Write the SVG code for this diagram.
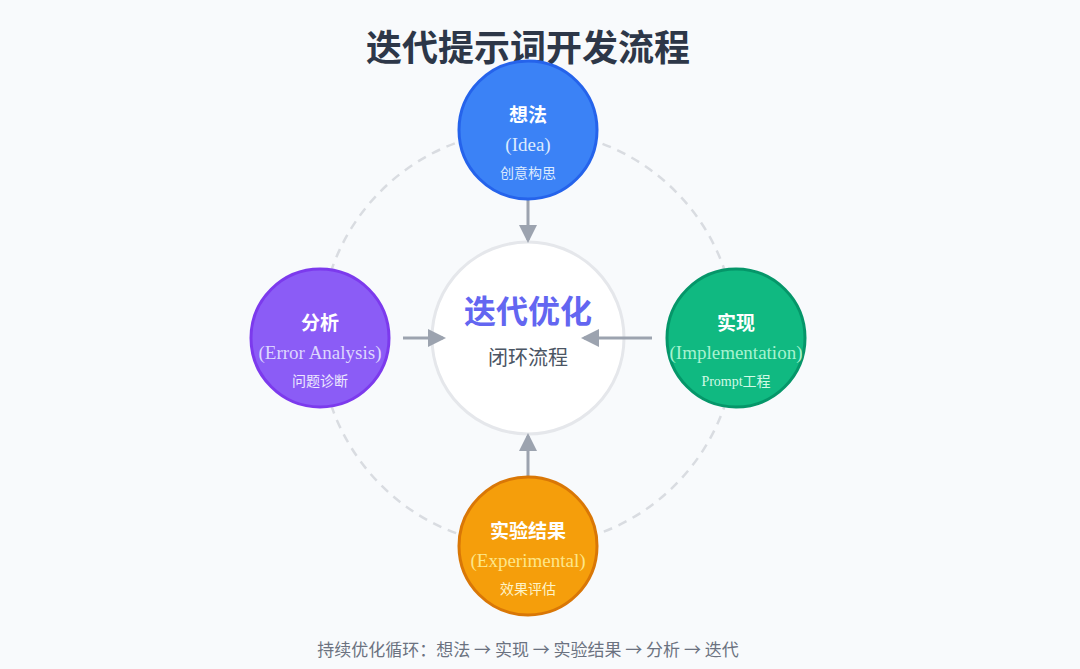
<svg xmlns="http://www.w3.org/2000/svg" width="1080" height="669" viewBox="0 0 1080 669">
<style>
.cjk{font-family:"Noto Sans CJK SC","Noto Sans",sans-serif}
.t{font-size:19px;font-weight:bold;fill:#fff;text-anchor:middle}
.en{font-family:"Liberation Serif",serif;font-size:19px;text-anchor:middle}
.s{font-size:14px;text-anchor:middle}
.conn{stroke:#9ca3af;stroke-width:3;fill:none}
</style>
<defs><marker id="ah" markerWidth="6" markerHeight="6" refX="5" refY="3" orient="auto" markerUnits="strokeWidth"><path d="M0,0 L6,3 L0,6 Z" fill="#9ca3af"/></marker></defs>
<rect width="1080" height="669" fill="#f8fafc"/>
<text x="528" y="61" class="cjk" font-size="36" font-weight="bold" fill="#2d3748" text-anchor="middle">迭代提示词开发流程</text>
<circle cx="528" cy="338" r="208" fill="none" stroke="#d9dce1" stroke-width="2.5" stroke-dasharray="9,7"/>
<g id="center"><circle cx="528" cy="338" r="96" fill="#fff" stroke="#e5e7eb" stroke-width="3"/>
<text x="528" y="323" class="cjk" font-size="32" font-weight="bold" fill="#6366f1" text-anchor="middle">迭代优化</text>
<text x="528" y="365" class="cjk" font-size="20" fill="#4b5563" text-anchor="middle">闭环流程</text></g>
<g id="connectors">
<line class="conn" x1="528" y1="200" x2="528" y2="240" marker-end="url(#ah)"/>
<line class="conn" x1="403" y1="338" x2="443" y2="338" marker-end="url(#ah)"/>
<line class="conn" x1="652" y1="338" x2="584" y2="338" marker-end="url(#ah)"/>
<line class="conn" x1="528" y1="476" x2="528" y2="436" marker-end="url(#ah)"/>
</g>
<g id="idea"><circle cx="528" cy="130" r="69" fill="#3b82f6" stroke="#2563eb" stroke-width="3"/>
<text x="528" y="122" class="cjk t">想法</text>
<text x="528" y="151" class="en" fill="#dbeafe">(Idea)</text>
<text x="528" y="178" class="cjk s" fill="#dbeafe">创意构思</text></g>
<g id="impl"><circle cx="736" cy="338" r="69" fill="#10b981" stroke="#059669" stroke-width="3"/>
<text x="736" y="330" class="cjk t">实现</text>
<text x="736" y="359" class="en" fill="#a7f3d0">(Implementation)</text>
<text x="736" y="386" class="s" font-family="Liberation Serif,'Noto Sans CJK SC',serif" fill="#d1fae5">Prompt工程</text></g>
<g id="exp"><circle cx="528" cy="546" r="69" fill="#f59e0b" stroke="#d97706" stroke-width="3"/>
<text x="528" y="538" class="cjk t">实验结果</text>
<text x="528" y="567" class="en" fill="#fde68a">(Experimental)</text>
<text x="528" y="594" class="cjk s" fill="#fef3c7">效果评估</text></g>
<g id="analysis"><circle cx="320" cy="338" r="69" fill="#8b5cf6" stroke="#7c3aed" stroke-width="3"/>
<text x="320" y="330" class="cjk t">分析</text>
<text x="320" y="359" class="en" fill="#ddd6fe">(Error Analysis)</text>
<text x="320" y="386" class="cjk s" fill="#ede9fe">问题诊断</text></g>
<text x="528" y="656" class="cjk" font-size="17" fill="#6b7280" text-anchor="middle">持续优化循环：想法 → 实现 → 实验结果 → 分析 → 迭代</text>
</svg>
